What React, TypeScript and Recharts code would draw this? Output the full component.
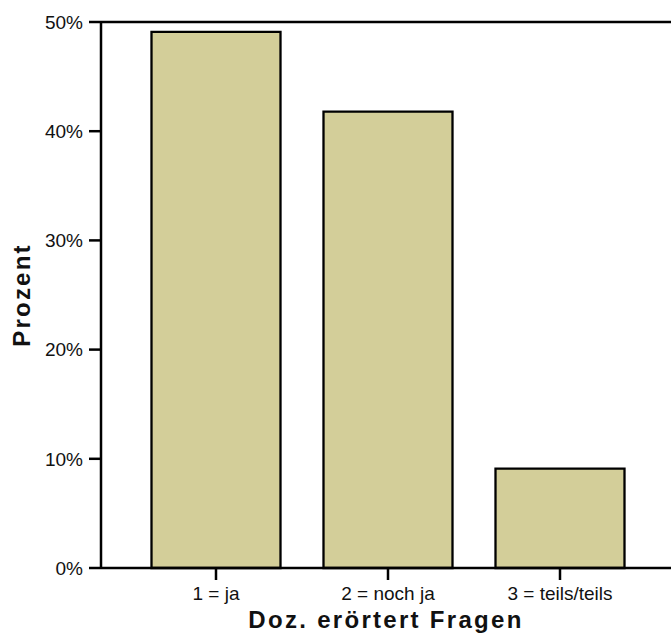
import React from 'react';
import {
  BarChart,
  Bar,
  XAxis,
  YAxis,
  ReferenceLine,
  Label
} from 'recharts';

const categories = ['1 = ja', '2 = noch ja', '3 = teils/teils'];
const percents = [49.1, 41.8, 9.1];
const yTicks = [0, 10, 20, 30, 40, 50];

const data = categories.map((name, i) => ({ name, value: percents[i] }));

const font = '"Liberation Sans", Arial, sans-serif';

const App: React.FC = () => {
  return (
    <div style={{ position: 'absolute', left: 0, top: 0, width: 671, height: 639, background: '#fff' }}>
      <BarChart
        width={671}
        height={639}
        data={data}
        margin={{ top: 22, right: 0, bottom: 0, left: 0 }}
        barCategoryGap="12.5%"
      >
        <XAxis
          dataKey="name"
          height={71}
          padding={{ left: 29, right: 25 }}
          axisLine={{ stroke: '#000', strokeWidth: 2.5 }}
          tickLine={{ stroke: '#000', strokeWidth: 2.5 }}
          tickSize={12}
          tickMargin={7}
          tick={{ fill: '#111', fontSize: 19, fontFamily: font }}
        >
          <Label
            value="Doz. erörtert Fragen"
            position="insideBottom"
            offset={11}
            style={{ fill: '#111', fontSize: 24, fontWeight: 'bold', fontFamily: font, letterSpacing: 2.3 }}
          />
        </XAxis>
        <YAxis
          width={101}
          domain={[0, 50]}
          ticks={yTicks}
          tickFormatter={(v: number) => `${v}%`}
          axisLine={{ stroke: '#000', strokeWidth: 2.5 }}
          tickLine={{ stroke: '#000', strokeWidth: 2.5 }}
          tickSize={12}
          tickMargin={6}
          tick={{ fill: '#111', fontSize: 19, fontFamily: font }}
        >
          <Label
            content={({ viewBox }: any) => {
              const cy = viewBox.y + viewBox.height / 2;
              return (
                <text
                  x={21}
                  y={cy}
                  transform={`rotate(-90, 21, ${cy})`}
                  textAnchor="middle"
                  dominantBaseline="central"
                  style={{ fill: '#111', fontSize: 24, fontWeight: 'bold', fontFamily: font, letterSpacing: 2.2 }}
                >
                  Prozent
                </text>
              );
            }}
          />
        </YAxis>
        <ReferenceLine y={50} stroke="#000" strokeWidth={2.5} />
        <Bar
          dataKey="value"
          fill="#D3CE99"
          stroke="#000"
          strokeWidth={2.3}
          isAnimationActive={false}
        />
      </BarChart>
    </div>
  );
};

export default App;
